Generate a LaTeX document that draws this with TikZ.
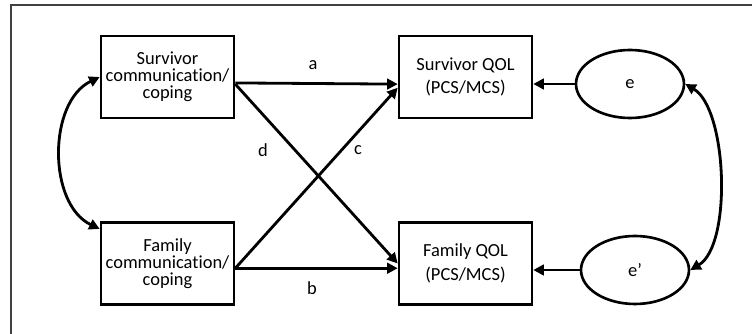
\documentclass[tikz,border=0pt]{standalone}
\usepackage{fontspec}
\setmainfont{Carlito}[Ligatures=NoCommon]
\usetikzlibrary{arrows.meta}
\usetikzlibrary{shapes.geometric}

\begin{document}
\begin{tikzpicture}[x=0.02cm, y=-0.02cm,
    every node/.style={font=\fontsize{10.5}{10}\selectfont},
    obsbox/.style={draw, line width=1.5pt, minimum width=2.66cm, minimum height=1.64cm, align=center, inner sep=1pt},
    errnode/.style={draw, ellipse, line width=1.5pt, minimum width=2.16cm, minimum height=1.36cm},
    effect/.style={line width=1.6pt, -{Triangle[length=6pt,width=6pt]}},
    covar/.style={line width=1.6pt, {Triangle[length=6pt,width=6pt]}-{Triangle[length=6pt,width=6pt]}}]
  \useasboundingbox (0,0) rectangle (752,334);
  \draw [black!75, line width=1.1pt] (752,5) -- (11,5) -- (11,334);

  % predictors and outcomes
  \node [obsbox, font=\fontsize{10.5}{9.6}\selectfont] (sc) at (167.5,77) {Survivor\\communication/\\coping};
  \node [obsbox, font=\fontsize{10.5}{9.6}\selectfont] (fc) at (167.5,263.5) {Family\\communication/\\coping};
  \node [obsbox, font=\fontsize{10.5}{13.5}\selectfont] (sq) at (465.5,77) {Survivor QOL\\(PCS/MCS)};
  \node [obsbox, font=\fontsize{10.5}{13.5}\selectfont] (fq) at (465.5,263.5) {Family QOL\\(PCS/MCS)};
  \node [errnode] (e) at (630,84) {e};
  \node [errnode] (e2) at (635,270) {e’};

  % paths
  \draw [effect] (sc.-5) -- (sq.186);
  \draw [effect] (fc.-4) -- (fq.184);
  \draw [effect] (sc.-6) -- (fq.west);
  \draw [effect] (fc.-4) -- (sq.189);
  \draw [effect] (e.west) -- (e.west -| sq.east);
  \draw [effect] (e2.west) -- (e2.west -| fq.east);
  \draw [covar] (sc.west) .. controls +(-52,25) and +(-52,-25) .. (fc.153);
  \draw [covar] (e.east) .. controls +(42,25) and +(42,-25) .. (e2.east);

  \node (la) at (313,65) {a};
  \node (lb) at (312,288) {b};
  \node (ld) at (263,150) {d};
  \node (lc) at (358,150) {c};
\end{tikzpicture}
\end{document}
